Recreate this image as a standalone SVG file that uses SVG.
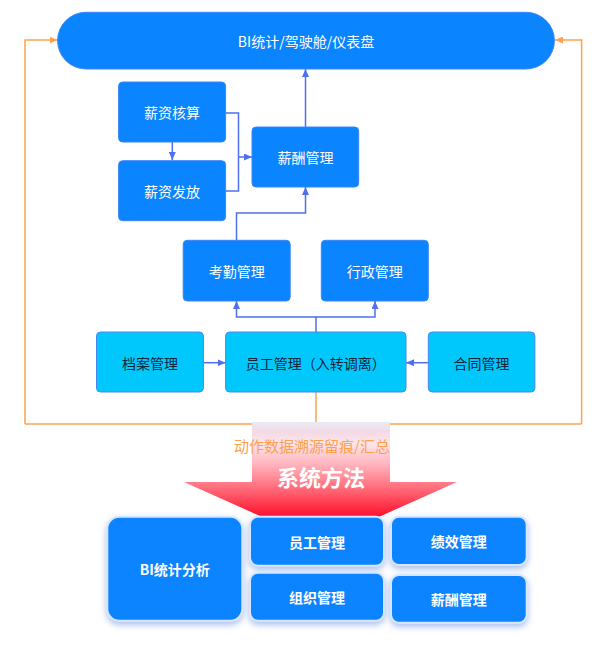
<svg xmlns="http://www.w3.org/2000/svg" width="610" height="654" viewBox="0 0 610 654">
<defs>
<style>
.t{font-family:"Noto Sans CJK SC","Noto Sans",sans-serif;font-size:14px;text-anchor:middle;dominant-baseline:central}
.w{fill:#ffffff}
.d{fill:#10263a}
.b{font-weight:bold}
.blue{fill:#0a84ff;stroke:#3b86f5;stroke-width:1}
.cyan{fill:#00c8fd;stroke:#4a86f2;stroke-width:1}
.bot{fill:#0a84ff;stroke:#d6e6ff;stroke-width:2;filter:url(#sh)}
.cn{fill:none;stroke:#4d6ff0;stroke-width:1.5}
.or{fill:none;stroke:#ffa04d;stroke-width:1.5}
</style>
<marker id="ab" viewBox="0 0 8 7" refX="8" refY="3.5" markerWidth="8" markerHeight="7" markerUnits="userSpaceOnUse" orient="auto"><path d="M0,0 L8,3.5 L0,7 z" fill="#4d6ff0"/></marker>
<marker id="ao" viewBox="0 0 8 7" refX="8" refY="3.5" markerWidth="8" markerHeight="7" markerUnits="userSpaceOnUse" orient="auto"><path d="M0,0 L8,3.5 L0,7 z" fill="#ffa04d"/></marker>
<linearGradient id="rg" x1="0" y1="422" x2="0" y2="518" gradientUnits="userSpaceOnUse">
<stop offset="0" stop-color="#ebebf5"/>
<stop offset="0.1" stop-color="#f3d9e4"/>
<stop offset="0.22" stop-color="#fce6ec"/>
<stop offset="0.45" stop-color="#ffb2bb"/>
<stop offset="0.75" stop-color="#ff5a6a"/>
<stop offset="1" stop-color="#ff0a28"/>
</linearGradient>
<filter id="sh" x="-20%" y="-20%" width="140%" height="150%">
<feDropShadow dx="0" dy="3" stdDeviation="3" flood-color="#3a6fd8" flood-opacity="0.45"/>
</filter>
</defs>

<g id="connectors">
<path class="cn" d="M172.3,142 V160" marker-end="url(#ab)"/>
<path class="cn" d="M225.6,113 H238.5 V191 H225.6"/>
<path class="cn" d="M238.5,157 H252" marker-end="url(#ab)"/>
<path class="cn" d="M305.5,127 V69" marker-end="url(#ab)"/>
<path class="cn" d="M236.5,240 V213 H305.5 V187" marker-end="url(#ab)"/>
<path class="cn" d="M316,332 V317 H236.5 V301" marker-end="url(#ab)"/>
<path class="cn" d="M316,317 H375 V301" marker-end="url(#ab)"/>
<path class="cn" d="M203.4,362.7 H225.6" marker-end="url(#ab)"/>
<path class="cn" d="M428.3,362.7 H406" marker-end="url(#ab)"/>
<path class="or" d="M316,392 V424"/>
<path class="or" d="M25,424 H581.6"/>
<path class="or" d="M25,424 V40 H57.6" marker-end="url(#ao)"/>
<path class="or" d="M581.6,424 V40 H555" marker-end="url(#ao)"/>
</g>

<g id="bi-top">
<rect x="57.6" y="12.3" width="496.8" height="56.7" rx="28.3" class="blue"/>
<text class="t w" x="306" y="41">BI统计/驾驶舱/仪表盘</text>
</g>
<g id="xz-hs">
<rect x="118.6" y="82" width="107" height="60" rx="4" class="blue"/>
<text class="t w" x="172.1" y="112">薪资核算</text>
</g>
<g id="xz-ff">
<rect x="118.6" y="160.7" width="107" height="60" rx="4" class="blue"/>
<text class="t w" x="172.1" y="190.7">薪资发放</text>
</g>
<g id="xc-gl">
<rect x="252" y="127" width="106.7" height="60" rx="4" class="blue"/>
<text class="t w" x="305.4" y="157">薪酬管理</text>
</g>
<g id="kq-gl">
<rect x="183.2" y="240.3" width="107" height="60.7" rx="4" class="blue"/>
<text class="t w" x="236.7" y="270.6">考勤管理</text>
</g>
<g id="xz-gl">
<rect x="321.3" y="240.3" width="107" height="60.7" rx="4" class="blue"/>
<text class="t w" x="374.8" y="270.6">行政管理</text>
</g>
<g id="da-gl">
<rect x="96.5" y="332" width="106.9" height="60" rx="4" class="cyan"/>
<text class="t d" x="150" y="362.5">档案管理</text>
</g>
<g id="yg-gl">
<rect x="225.6" y="332" width="180.4" height="60" rx="4" class="cyan"/>
<text class="t d" x="315.8" y="362.5">员工管理（入转调离）</text>
</g>
<g id="ht-gl">
<rect x="428.3" y="332" width="106.6" height="60" rx="4" class="cyan"/>
<text class="t d" x="481.6" y="362.5">合同管理</text>
</g>

<g id="method-arrow">
<polygon points="252,422 390,422 390,482 457,482 320.5,543 184,482 252,482" fill="url(#rg)"/>
<text class="t" x="312" y="445" style="fill:#ffa04d;font-size:15px">动作数据溯源留痕/汇总</text>
<text class="t w b" x="321" y="476" style="font-size:22px">系统方法</text>
</g>

<g id="bi-fx">
<rect x="107.3" y="516.7" width="135" height="104" rx="12" class="bot"/>
<text class="t w b" x="174.8" y="568.5">BI统计分析</text>
</g>
<g id="b-yg">
<rect x="250" y="516.7" width="134" height="49" rx="8" class="bot"/>
<text class="t w b" x="317" y="541.5">员工管理</text>
</g>
<g id="b-zz">
<rect x="250" y="572.7" width="134" height="48" rx="8" class="bot"/>
<text class="t w b" x="317" y="596.7">组织管理</text>
</g>
<g id="b-jx">
<rect x="391" y="516.7" width="135.7" height="48.3" rx="8" class="bot"/>
<text class="t w b" x="458.8" y="541">绩效管理</text>
</g>
<g id="b-xc">
<rect x="391" y="575" width="135.7" height="47.7" rx="8" class="bot"/>
<text class="t w b" x="458.8" y="598.5">薪酬管理</text>
</g>
</svg>
